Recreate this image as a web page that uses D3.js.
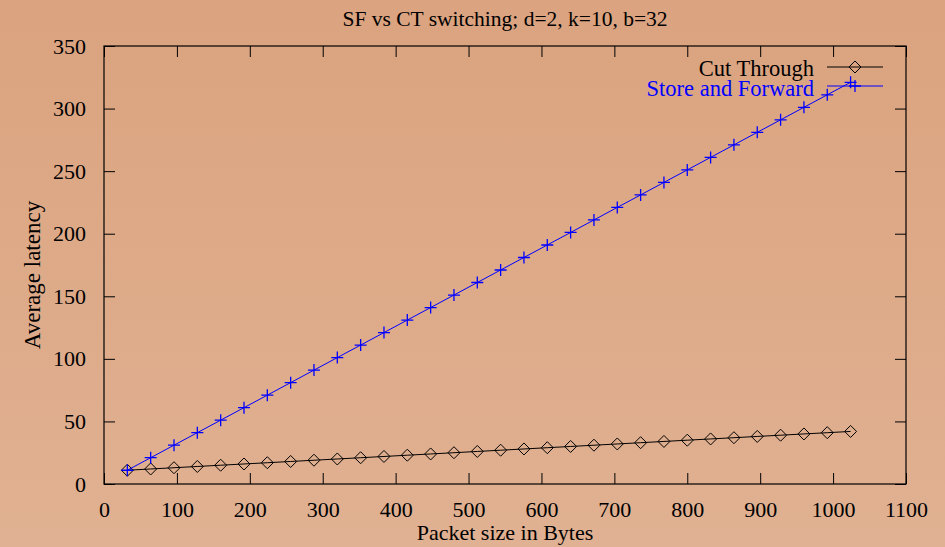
<!DOCTYPE html>
<html>
<head>
<style>
  body { margin: 0; }
  svg { display: block; font-family: "Liberation Serif", serif; }
</style>
</head>
<body>
<div id="chart"></div>
<script src="https://d3js.org/d3.v7.min.js"></script>
<script>
// packet sizes (bytes) and the two latency series
var packetSizes = [32, 64, 96, 128, 160, 192, 224, 256, 288, 320, 352, 384, 416, 448, 480, 512,
                   544, 576, 608, 640, 672, 704, 736, 768, 800, 832, 864, 896, 928, 960, 992, 1024];
var cutThrough = [11, 12, 13, 14, 15, 16, 17, 18, 19, 20, 21, 22, 23, 24, 25, 26,
                  27, 28, 29, 30, 31, 32, 33, 34, 35, 36, 37, 38, 39, 40, 41, 42];
var storeForward = [11, 21, 31, 41, 51, 61, 71, 81, 91, 101, 111, 121, 131, 141, 151, 161,
                    171, 181, 191, 201, 211, 221, 231, 241, 251, 261, 271, 281, 291, 301, 311, 321];
var xTicks = [0, 100, 200, 300, 400, 500, 600, 700, 800, 900, 1000, 1100];
var yTicks = [0, 50, 100, 150, 200, 250, 300, 350];

var W = 945, H = 547;
var margin = {top: 46, right: 39, bottom: 63, left: 104};
var width = W - margin.left - margin.right;
var height = H - margin.top - margin.bottom;
var fs = "22px";

var svg = d3.select("#chart").append("svg")
    .attr("width", W)
    .attr("height", H);

// background gradient
var grad = svg.append("defs").append("linearGradient")
    .attr("id", "bg").attr("x1", 0).attr("y1", 0).attr("x2", 0).attr("y2", 1);
grad.append("stop").attr("offset", "0%").attr("stop-color", "#dba37f");
grad.append("stop").attr("offset", "100%").attr("stop-color", "#e0b192");
svg.append("rect").attr("width", W).attr("height", H).attr("fill", "url(#bg)");

var g = svg.append("g").attr("transform", "translate(" + margin.left + "," + margin.top + ")");

var x = d3.scaleLinear().domain([0, 1100]).range([0, width]);
var y = d3.scaleLinear().domain([0, 350]).range([height, 0]);

var tick = 11;
// axes with inward ticks, mirrored on top and right
g.append("g").attr("transform", "translate(0," + height + ")")
    .call(d3.axisBottom(x).tickValues(xTicks).tickSize(-tick).tickPadding(tick + 6).tickFormat(d3.format("d")).tickSizeOuter(0));
g.append("g")
    .call(d3.axisTop(x).tickValues(xTicks).tickSize(-tick).tickFormat("").tickSizeOuter(0));
g.append("g")
    .call(d3.axisLeft(y).tickValues(yTicks).tickSize(-tick).tickPadding(tick + 7).tickFormat(d3.format("d")).tickSizeOuter(0));
g.append("g").attr("transform", "translate(" + width + ",0)")
    .call(d3.axisRight(y).tickValues(yTicks).tickSize(-tick).tickFormat("").tickSizeOuter(0));

g.selectAll(".domain").remove();
g.selectAll(".tick line").attr("stroke", "#000");
g.selectAll(".tick text").attr("fill", "#000").style("font-size", fs).style("font-family", "Liberation Serif");

g.append("rect").attr("width", width).attr("height", height)
    .attr("fill", "none").attr("stroke", "#000").attr("stroke-width", 1.2);

var diamond = function(sel, cx, cy) {
  sel.append("path")
    .attr("d", "M" + cx + "," + (cy - 6) + "L" + (cx + 6) + "," + cy + "L" + cx + "," + (cy + 6) + "L" + (cx - 6) + "," + cy + "Z")
    .attr("fill", "none").attr("stroke", "#000").attr("stroke-width", 1);
};
var plus = function(sel, cx, cy) {
  sel.append("path")
    .attr("d", "M" + (cx - 6) + "," + cy + "H" + (cx + 6) + "M" + cx + "," + (cy - 6) + "V" + (cy + 6))
    .attr("stroke", "#0000ff").attr("stroke-width", 1.3);
};

var ctData = packetSizes.map(function(d, i) { return [d, cutThrough[i]]; });
var sfData = packetSizes.map(function(d, i) { return [d, storeForward[i]]; });
var line = d3.line().x(function(d) { return x(d[0]); }).y(function(d) { return y(d[1]); });

g.append("path").datum(ctData).attr("d", line)
    .attr("fill", "none").attr("stroke", "#000").attr("stroke-width", 1);
ctData.forEach(function(d) { diamond(g, x(d[0]), y(d[1])); });

g.append("path").datum(sfData).attr("d", line)
    .attr("fill", "none").attr("stroke", "#0000ff").attr("stroke-width", 1);
sfData.forEach(function(d) { plus(g, x(d[0]), y(d[1])); });

// legend
var leg = svg.append("g").style("font-size", "22.5px");
leg.append("text").attr("x", 814).attr("y", 76).attr("text-anchor", "end").attr("fill", "#000").text("Cut Through");
leg.append("line").attr("x1", 827).attr("x2", 883).attr("y1", 67).attr("y2", 67).attr("stroke", "#000");
diamond(leg, 855, 67);
leg.append("text").attr("x", 814).attr("y", 95.5).attr("text-anchor", "end").attr("fill", "#0000ff").text("Store and Forward");
leg.append("line").attr("x1", 827).attr("x2", 883).attr("y1", 86).attr("y2", 86).attr("stroke", "#0000ff");
plus(leg, 855, 86);

// titles
svg.append("text").attr("x", 505).attr("y", 26).attr("text-anchor", "middle")
    .style("font-size", "21.5px").text("SF vs CT switching; d=2, k=10, b=32");
svg.append("text").attr("x", 505).attr("y", 540).attr("text-anchor", "middle")
    .style("font-size", fs).text("Packet size in Bytes");
svg.append("text").attr("transform", "translate(40,275) rotate(-90)").attr("text-anchor", "middle")
    .style("font-size", "23px").text("Average latency");
</script>
</body>
</html>
